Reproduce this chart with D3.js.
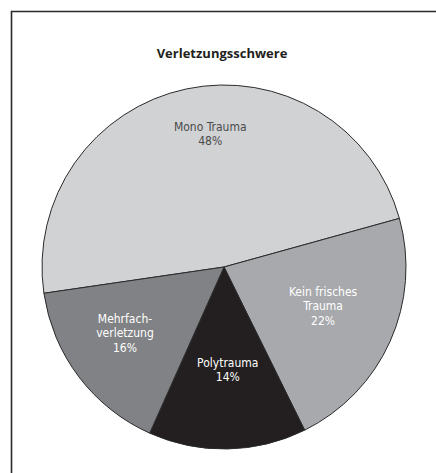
<!DOCTYPE html>
<html>
<head>
<meta charset="utf-8">
<script src="https://cdn.jsdelivr.net/npm/d3@7"></script>
<style>
  body { margin: 0; background: #fff; }
  svg text { font-family: "Liberation Sans Narrow", "DejaVu Sans Condensed", "Roboto", sans-serif; }
</style>
</head>
<body>
<div id="chart"></div>
<script>
// Data
var categories = ["Mono Trauma", "Kein frisches Trauma", "Polytrauma", "Mehrfachverletzung"];
var labelLines = [["Mono Trauma"], ["Kein frisches", "Trauma"], ["Polytrauma"], ["Mehrfach-", "verletzung"]];
var values = [48, 22, 14, 16];
var title = "Verletzungsschwere";

var width = 436, height = 473;
var cx = 224, cy = 267, radius = 182;

// fills and label placement (fraction of radius, angle tweak in degrees)
var fills = ["#d1d2d4", "#a7a9ac", "#231f20", "#808285"];
var textFills = ["#4a4a4a", "#fff", "#fff", "#fff"];
var labelPlace = [{k: 0.735, da: 6}, {k: 0.585, da: -2.6}, {k: 0.566, da: -1}, {k: 0.654, da: 3.4}];

var svg = d3.select("#chart")
    .append("svg")
    .attr("width", width)
    .attr("height", height);

// frame (only top and left edges are visible in the crop)
svg.append("path")
    .attr("d", "M11.5," + height + "V11.5H" + width)
    .attr("fill", "none")
    .attr("stroke", "#2a2a2a")
    .attr("stroke-width", 1.6);

svg.append("text")
    .attr("x", 222)
    .attr("y", 58)
    .attr("text-anchor", "middle")
    .style("font-family", "'Open Sans', sans-serif")
    .style("font-weight", "bold")
    .style("font-size", "13px")
    .style("fill", "#231f20")
    .text(title);

var pie = d3.pie()
    .sort(null)
    .startAngle(-98.3 * Math.PI / 180)
    .endAngle((360 - 98.3) * Math.PI / 180);

var arc = d3.arc().innerRadius(0).outerRadius(radius);

var arcs = pie(values);

var g = svg.append("g")
    .attr("transform", "translate(" + cx + "," + cy + ")");

g.selectAll("path.slice")
    .data(arcs)
    .enter()
    .append("path")
    .attr("class", "slice")
    .attr("d", arc)
    .attr("fill", function(d, i) { return fills[i]; })
    .attr("stroke", "#2a2a2a")
    .attr("stroke-width", 1);

var lineH = 14.5;

g.selectAll("text.label")
    .data(arcs)
    .enter()
    .append("text")
    .attr("class", "label")
    .attr("text-anchor", "middle")
    .style("font-size", "12px")
    .style("fill", function(d, i) { return textFills[i]; })
    .each(function(d, i) {
      var a = (d.startAngle + d.endAngle) / 2 + labelPlace[i].da * Math.PI / 180,
          r = radius * labelPlace[i].k,
          x = Math.sin(a) * r,
          y = -Math.cos(a) * r;
      var lines = labelLines[i].concat([values[i] + "%"]);
      var top = y - (lines.length - 1) * lineH / 2;
      var t = d3.select(this);
      lines.forEach(function(l, j) {
        t.append("tspan")
          .attr("x", x)
          .attr("y", top + j * lineH)
          .attr("dy", "0.35em")
          .text(l);
      });
    });
</script>
</body>
</html>
